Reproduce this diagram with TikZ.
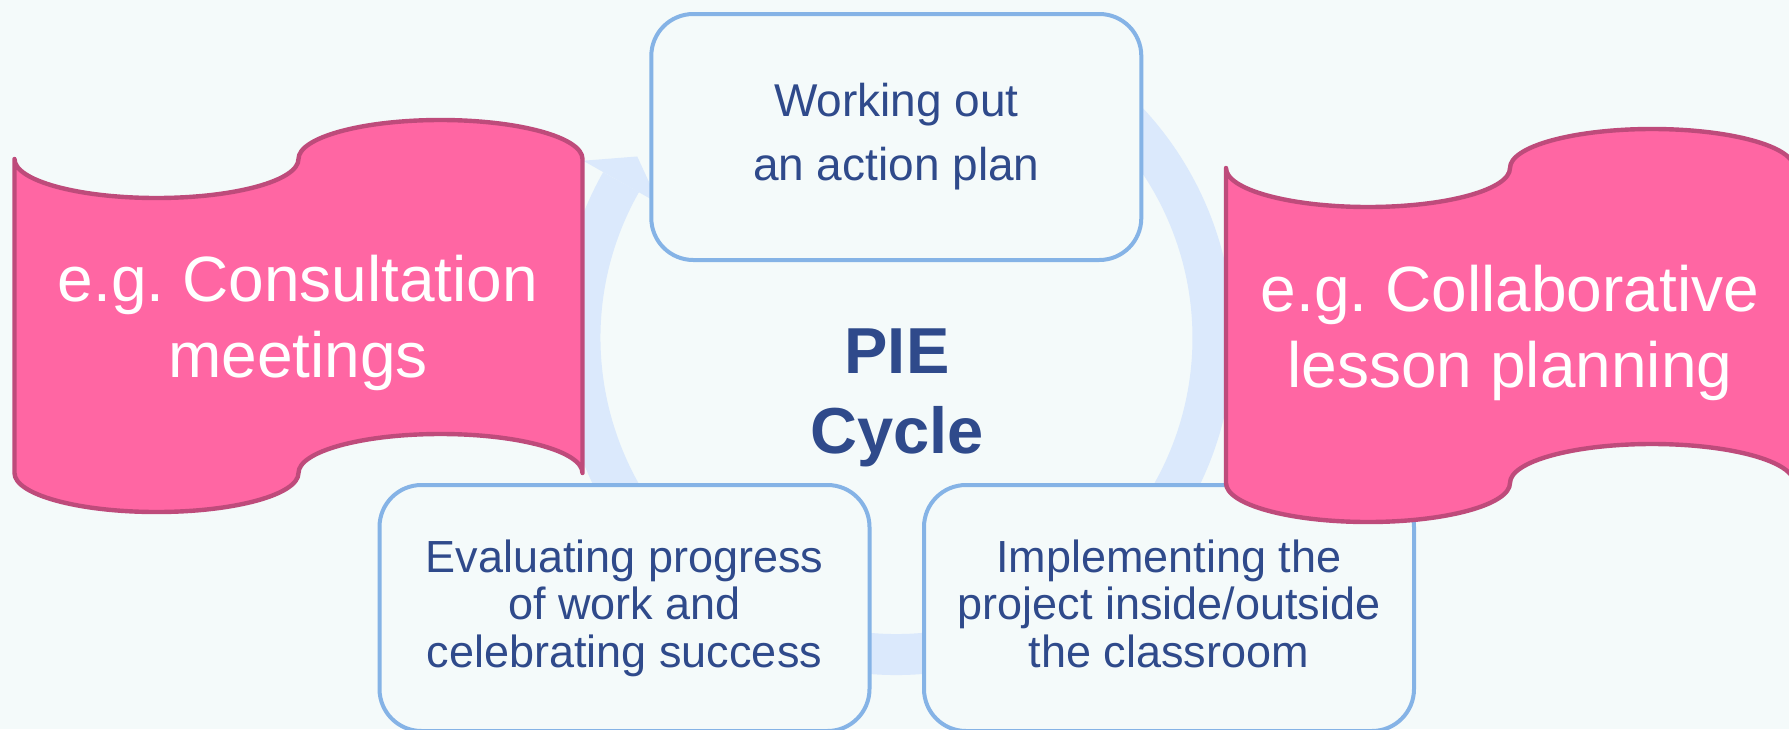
\documentclass[tikz,border=0pt]{standalone}
\usepackage{fontspec}
\setmainfont{Liberation Sans}
\usetikzlibrary{calc}
\frenchspacing
\definecolor{bgc}{RGB}{244,250,250}
\definecolor{ringc}{RGB}{219,233,252}
\definecolor{boxline}{RGB}{133,179,230}
\definecolor{textblue}{RGB}{47,74,139}
\definecolor{pinkc}{RGB}{255,102,163}
\definecolor{pinkline}{RGB}{190,75,123}
\begin{document}
\begin{tikzpicture}[x=0.5pt,y=-0.5pt,
  stagebox/.style={draw=boxline, line width=2pt, fill=bgc, rounded corners=21pt,
    minimum width=245pt, minimum height=123pt, align=center, text=textblue, inner sep=0pt},
  banner/.style={draw=pinkline, fill=pinkc, line width=2.2pt, line join=round},
  bannertext/.style={text=white, align=center, inner sep=0pt, font=\fontsize{32}{38}\selectfont},
  ringband/.style={draw=ringc, line width=20.5pt},
  ringhead/.style={fill=ringc},
  wave/.style={x radius=71pt, y radius=19.5pt}
]
\useasboundingbox (0,0) rectangle (1789,729);
\clip (0,0) rectangle (1789,729);
\fill[bgc] (0,0) rectangle (1789,729);

% cycle ring with arrow head
\coordinate (C) at (896.5,338);
\draw[ringband] ($(C)+(150.5:158.25pt)$) arc[start angle=150.5, end angle=425, radius=158.25pt];
\fill[ringhead] ($(C)+(150.5:180pt)$) -- ($(C)+(145:158.25pt)$) -- ($(C)+(150.5:136.5pt)$) -- cycle;

% stage boxes
\node[stagebox, font=\fontsize{23}{32}\selectfont] (plan) at (896.3,137) {Working out\\an action plan};
\node[stagebox, font=\fontsize{22.5}{23.75}\selectfont] (eval) at (624.5,608) {Evaluating progress\\of work and\\celebrating success};
\node[stagebox, font=\fontsize{22.5}{23.75}\selectfont] (impl) at (1169,608) {Implementing the\\project inside/outside\\the classroom\vphantom{g}};

% banners
\draw[banner] (14.5,159) arc[start angle=180,end angle=360,wave] arc[start angle=180,end angle=0,wave]
  -- ++(0,314) arc[start angle=0,end angle=180,wave] arc[start angle=0,end angle=-180,wave] -- cycle;
\node[bannertext] (consult) at (298,323) {e.g. Consultation\\meetings};

\draw[banner] (1226,168) arc[start angle=180,end angle=360,wave] arc[start angle=180,end angle=0,wave]
  -- ++(0,315) arc[start angle=0,end angle=180,wave] arc[start angle=0,end angle=-180,wave] -- cycle;
\node[bannertext] (collab) at (1510,333) {e.g. Collaborative\\lesson planning};

% centre title
\node[font=\bfseries\fontsize{32.5}{40}\selectfont, text=textblue, align=center, inner sep=0pt] (pie) at (897,397.5) {PIE\\Cycle};
\end{tikzpicture}
\end{document}
